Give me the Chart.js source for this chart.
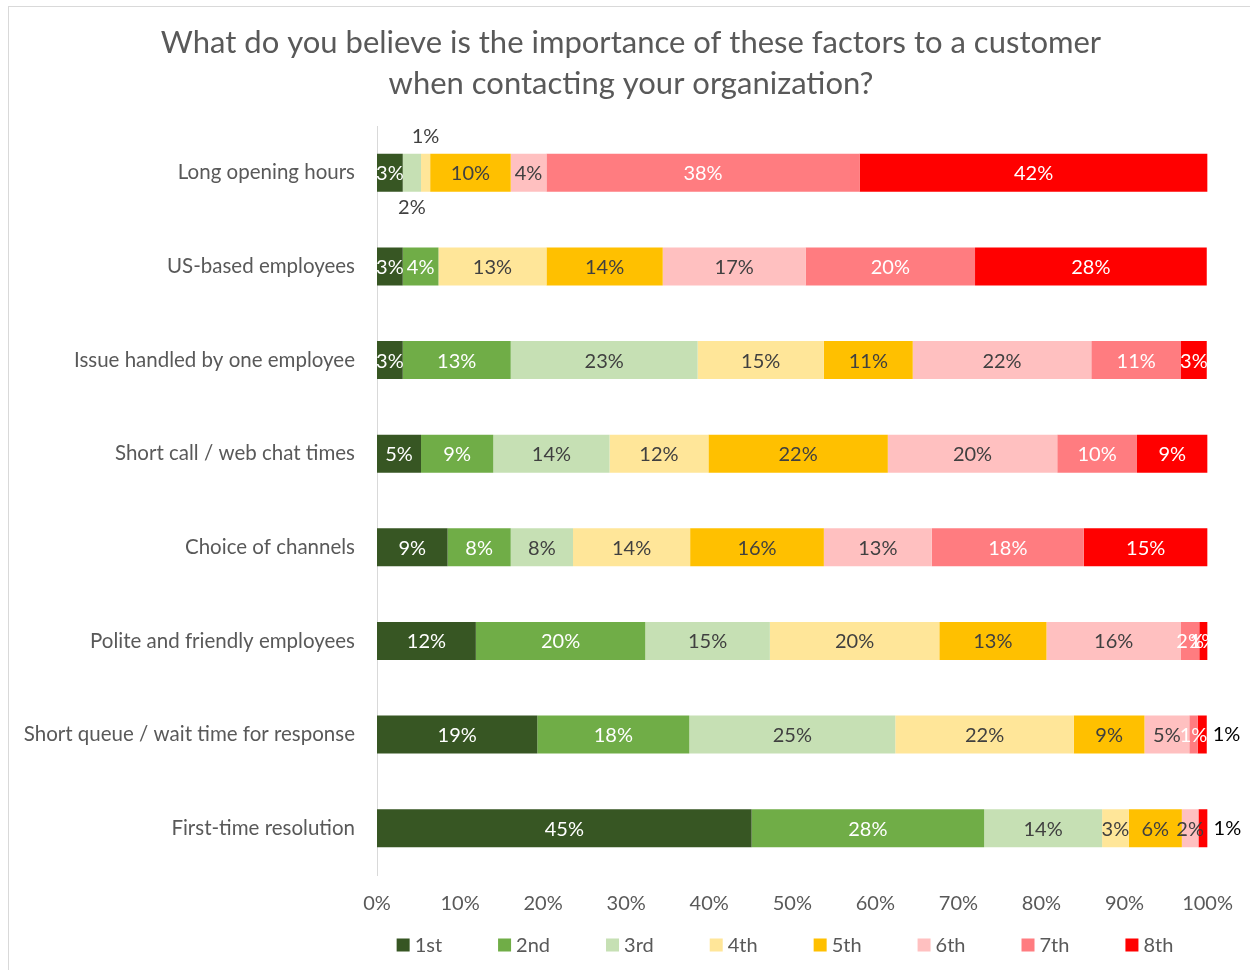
<!DOCTYPE html>
<html>
<head>
<meta charset="utf-8">
<script src="https://cdn.jsdelivr.net/npm/chart.js@4/dist/chart.umd.min.js"></script>
<style>
  html, body { margin: 0; padding: 0; background: #ffffff; }
  #wrap { position: absolute; left: 0; top: 0; width: 1250px; height: 970px; }
</style>
</head>
<body>
<div id="wrap"><canvas id="c" width="1250" height="970"></canvas></div>
<script>
// ---- Data ----
const titleLines = ["What do you believe is the importance of these factors to a customer", "when contacting your organization?"];
const categories = [
  "Long opening hours",
  "US-based employees",
  "Issue handled by one employee",
  "Short call / web chat times",
  "Choice of channels",
  "Polite and friendly employees",
  "Short queue / wait time for response",
  "First-time resolution"
];
const seriesNames = ["1st", "2nd", "3rd", "4th", "5th", "6th", "7th", "8th"];
// share (%) of each rank, per category (in category order)
const rank1st = [3.1, 3.1, 3.1, 5.3, 8.5, 11.9, 19.3, 45.1];
const rank2nd = [0, 4.3, 13.0, 8.7, 7.6, 20.4, 18.3, 28.0];
const rank3rd = [2.2, 0, 22.5, 14.0, 7.5, 15.0, 24.8, 14.2];
const rank4th = [1.1, 13.0, 15.2, 11.9, 14.1, 20.4, 21.5, 3.2];
const rank5th = [9.7, 14.0, 10.7, 21.6, 16.1, 12.9, 8.5, 6.4];
const rank6th = [4.3, 17.2, 21.5, 20.4, 13.0, 16.2, 5.4, 2.0];
const rank7th = [37.7, 20.4, 10.8, 9.6, 18.3, 2.2, 1.0, 0];
const rank8th = [41.9, 27.9, 3.1, 8.5, 14.9, 1.0, 1.1, 1.1];
const xTicks = [0, 10, 20, 30, 40, 50, 60, 70, 80, 90, 100];

// ---- Style ----
const FONT = "Lato, 'Open Sans', sans-serif";
const colors = ["#375623", "#70AD47", "#C6E0B4", "#FFE699", "#FFC000", "#FFC0C0", "#FF7C80", "#FF0000"];
const labelColors = ["#ffffff", "#ffffff", "#404040", "#404040", "#404040", "#404040", "#ffffff", "#ffffff"];
// special label placements: "categoryIndex-datasetIndex"
const labelPlacement = { "0-2": "below", "0-3": "above", "6-7": "right", "7-7": "right" };

const seriesValues = [rank1st, rank2nd, rank3rd, rank4th, rank5th, rank6th, rank7th, rank8th];

const decorPlugin = {
  id: "decor",
  afterDatasetsDraw(chart) {
    const ctx = chart.ctx;
    ctx.save();
    ctx.font = "20px " + FONT;
    ctx.textBaseline = "middle";
    chart.data.datasets.forEach((ds, di) => {
      const meta = chart.getDatasetMeta(di);
      meta.data.forEach((bar, ci) => {
        const v = ds.data[ci];
        if (!v) return;
        const txt = Math.round(v) + "%";
        const place = labelPlacement[ci + "-" + di];
        const h = bar.height;
        const cx = (bar.x + bar.base) / 2;
        if (place === "below") {
          ctx.fillStyle = "#404040"; ctx.textAlign = "center";
          ctx.fillText(txt, cx, bar.y + h / 2 + 16);
        } else if (place === "above") {
          ctx.fillStyle = "#404040"; ctx.textAlign = "center";
          ctx.fillText(txt, cx, bar.y - h / 2 - 17);
        } else if (place === "right") {
          ctx.fillStyle = "#000000"; ctx.textAlign = "left";
          ctx.fillText(txt, bar.x + 6, bar.y);
        } else {
          ctx.fillStyle = labelColors[di]; ctx.textAlign = "center";
          ctx.fillText(txt, cx, bar.y + 1);
        }
      });
    });
    ctx.restore();
  },
  afterDraw(chart) {
    const ctx = chart.ctx;
    ctx.save();
    // outer border
    ctx.strokeStyle = "#d9d9d9";
    ctx.lineWidth = 1;
    ctx.strokeRect(8.5, 6.5, 1400, 1200);
    // title
    ctx.fillStyle = "#595959";
    ctx.font = "31px " + FONT;
    ctx.textAlign = "center";
    ctx.textBaseline = "alphabetic";
    ctx.fillText(titleLines[0], 631, 53);
    ctx.fillText(titleLines[1], 631, 94);
    // legend
    ctx.font = "20px " + FONT;
    ctx.textBaseline = "middle";
    ctx.textAlign = "left";
    const box = 13, gapText = 5, gapItem = 56, ly = 945;
    const widths = seriesNames.map(n => box + gapText + ctx.measureText(n).width);
    const total = widths.reduce((a, b) => a + b, 0) + gapItem * (seriesNames.length - 1);
    let x = 785 - total / 2;
    seriesNames.forEach((n, i) => {
      ctx.fillStyle = colors[i];
      ctx.fillRect(x, ly - box / 2, box, box);
      ctx.fillStyle = "#595959";
      ctx.fillText(n, x + box + gapText, ly + 1);
      x += widths[i] + gapItem;
    });
    ctx.restore();
  }
};

new Chart(document.getElementById("c"), {
  type: "bar",
  data: {
    labels: categories,
    datasets: seriesNames.map((n, i) => ({
      label: n,
      data: seriesValues[i],
      backgroundColor: colors[i],
      borderWidth: 0,
      categoryPercentage: 0.405,
      barPercentage: 1
    }))
  },
  options: {
    indexAxis: "y",
    responsive: false,
    animation: false,
    devicePixelRatio: 1,
    layout: { padding: { top: 126, left: 0, right: 42, bottom: 45 } },
    plugins: {
      legend: { display: false },
      title: { display: false },
      tooltip: { enabled: false }
    },
    scales: {
      x: {
        stacked: true,
        min: 0, max: 100,
        afterBuildTicks(scale) { scale.ticks = xTicks.map(v => ({ value: v })); },
        afterFit(scale) { scale.height = 50; },
        grid: { display: false, drawTicks: false },
        border: { display: false },
        ticks: {
          padding: 17,
          color: "#595959",
          font: { family: FONT, size: 20 },
          callback: v => v + "%"
        }
      },
      y: {
        stacked: true,
        afterFit(scale) { scale.width = 377; },
        grid: { display: false, drawTicks: false },
        border: { display: true, color: "#d9d9d9", width: 1 },
        ticks: {
          padding: 22,
          color: "#595959",
          font: { family: FONT, size: 20.5 }
        }
      }
    }
  },
  plugins: [decorPlugin]
});
</script>
</body>
</html>
